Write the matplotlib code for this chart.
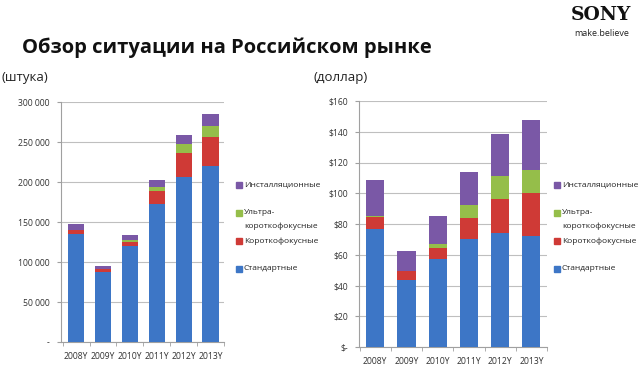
import numpy as np
import matplotlib.pyplot as plt
from matplotlib.patches import Rectangle

plt.rcParams['font.family'] = ['Open Sans', 'DejaVu Sans']

years = ['2008Y', '2009Y', '2010Y', '2011Y', '2012Y', '2013Y']
series = ['Стандартные', 'Короткофокусные', 'Ультра-\nкороткофокусные', 'Инсталляционные']
colors = ['#3D76C6', '#CF3A36', '#95BE4A', '#7A58A6']

# units (штука), per segment
units_std = [135400, 87000, 119600, 173000, 205800, 219600]
units_short = [4600, 4200, 5800, 15300, 30000, 36200]
units_ultra = [400, 300, 1600, 5000, 11700, 14200]
units_inst = [6600, 4100, 6750, 9700, 11250, 15400]

# dollars, per segment
usd_std = [76.5, 43.7, 57.1, 70.3, 74.4, 72.4]
usd_short = [8.0, 6.0, 7.5, 13.6, 22.0, 27.9]
usd_ultra = [0.9, 0.0, 2.4, 8.2, 15.0, 14.7]
usd_inst = [23.1, 12.6, 18.2, 21.4, 27.4, 32.5]

units_ticks = [0, 50000, 100000, 150000, 200000, 250000, 300000]
units_labels = ['-', '50 000', '100 000', '150 000', '200 000', '250 000', '300 000']
usd_ticks = [0, 20, 40, 60, 80, 100, 120, 140, 160]
usd_labels = ['$-', '$20', '$40', '$60', '$80', '$100', '$120', '$140', '$160']

W, H = 640, 373
fig = plt.figure(figsize=(W / 100, H / 100), dpi=100)


def px(x, y, w, h):
    return [x / W, (H - y - h) / H, w / W, h / H]


def draw(ax, data, ticks, labels, xlim, width):
    x = np.arange(len(years))
    bottom = np.zeros(len(years))
    for vals, c in zip(data, colors):
        ax.bar(x, vals, width, bottom=bottom, color=c, zorder=3)
        bottom += np.array(vals)
    ax.set_xlim(*xlim)
    ax.set_ylim(ticks[0], ticks[-1])
    ax.set_yticks(ticks)
    ax.set_yticklabels(labels, fontsize=6.2, color='#333333')
    ax.set_xticks(x)
    ax.set_xticklabels(years, fontsize=6.2, color='#333333')
    ax.set_xticks(np.arange(-0.5, len(years)), minor=True)
    ax.tick_params(axis='x', which='major', length=0, pad=7)
    ax.tick_params(axis='x', which='minor', length=3, color='#A0A0A0')
    ax.tick_params(axis='y', length=3, color='#A0A0A0', pad=5)
    ax.grid(axis='y', color='#BFBFBF', linewidth=0.8, zorder=0)
    for s in ['top', 'right']:
        ax.spines[s].set_visible(False)
    for s in ['left', 'bottom']:
        ax.spines[s].set_color('#A0A0A0')


def legend(x, ys):
    for lab, c, y in zip(series, colors, ys):
        fig.patches.append(Rectangle((x / W, (H - y - 3) / H), 6 / W, 6 / H,
                                     color=c, transform=fig.transFigure))
        for i, line in enumerate(lab.split('\n')):
            fig.text((x + 8) / W, (H - y - 13 * i) / H, line, fontsize=6,
                     color='#222222', va='center')


ax1 = fig.add_axes(px(61, 102, 163, 240))
draw(ax1, [units_std, units_short, units_ultra, units_inst],
     units_ticks, units_labels, (-0.56, 5.48), 0.6)
legend(236, [269, 241, 213, 185])

ax2 = fig.add_axes(px(359, 101, 188, 246))
draw(ax2, [usd_std, usd_short, usd_ultra, usd_inst],
     usd_ticks, usd_labels, (-0.52, 5.5), 0.58)
legend(554, [269, 241, 213, 185])

fig.text(22 / W, (H - 48) / H, 'Обзор ситуации на Российском рынке',
         fontsize=14.5, fontweight='bold', va='center', color='#111111')
fig.text(2 / W, (H - 77) / H, '(штука)', fontsize=9.5, va='center', color='#222222')
fig.text(313 / W, (H - 77) / H, '(доллар)', fontsize=9.5, va='center', color='#222222')
fig.text(631 / W, (H - 15) / H, 'SONY', fontsize=13.5, fontweight='bold',
         family='DejaVu Serif', ha='right', va='center', color='#111111')
fig.text(629 / W, (H - 33) / H, 'make.believe', fontsize=6.5, ha='right',
         va='center', color='#222222')

fig.savefig('out.png', dpi=100)
